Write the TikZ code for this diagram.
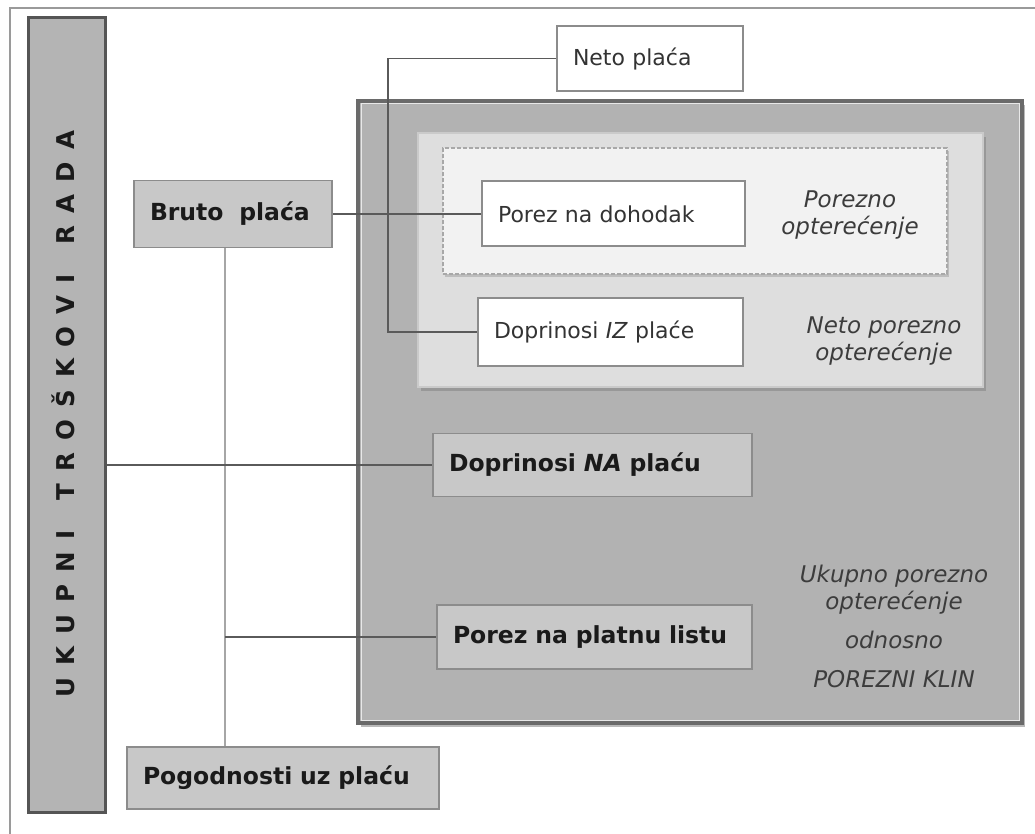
\documentclass[tikz,border=0pt]{standalone}
\usepackage{fontspec}
\setmainfont{DejaVu Sans}[ItalicFont={DejaVu Sans Oblique},BoldFont={DejaVu Sans Bold},BoldItalicFont={DejaVu Sans Bold Oblique}]
\usetikzlibrary{shadows}
\pgfdeclarelayer{containers}
\pgfdeclarelayer{links}
\pgfsetlayers{containers,links,main}
\definecolor{framegray}{HTML}{9A9A9A}
\definecolor{barfill}{HTML}{B4B4B4}
\definecolor{bardraw}{HTML}{555555}
\definecolor{boxfill}{HTML}{C8C8C8}
\definecolor{boxdraw}{HTML}{8C8C8C}
\definecolor{bigfill}{HTML}{B2B2B2}
\definecolor{bigdraw}{HTML}{6A6A6A}
\definecolor{lightfill}{HTML}{DEDEDE}
\definecolor{lightdraw}{HTML}{CACACA}
\definecolor{dashfill}{HTML}{F2F2F2}
\definecolor{dashdraw}{HTML}{A8A8A8}
\definecolor{conncol}{HTML}{5A5A5A}
\definecolor{trunkcol}{HTML}{A6A6A6}
\definecolor{txtdark}{HTML}{1A1A1A}
\definecolor{txtreg}{HTML}{333333}
\definecolor{txtit}{HTML}{3C3C3C}
\tikzset{
  boldfont/.style={font=\fontsize{23.5}{28}\selectfont\bfseries},
  grbox/.style={draw=boxdraw, line width=1.5pt, fill=boxfill, boldfont, text=txtdark, inner xsep=16pt, inner ysep=0pt, align=left},
  whbox/.style={draw=boxdraw, line width=2pt, fill=white, font=\fontsize{22}{26}\selectfont, text=txtreg, inner xsep=16pt, inner ysep=0pt, align=left},
  itlabel/.style={font=\fontsize{23}{27}\selectfont\itshape, text=txtit, align=center, inner sep=0pt},
  conn/.style={draw=conncol, line width=1.6pt},
  trunkline/.style={draw=trunkcol, line width=2.2pt},
  bigbox/.style={draw=bigdraw, line width=4pt, fill=bigfill, inner sep=0pt, drop shadow={shadow xshift=3pt, shadow yshift=-4pt, opacity=0.55}},
  lightbox/.style={draw=lightdraw, line width=2.5pt, fill=lightfill, inner sep=0pt, drop shadow={shadow xshift=3pt, shadow yshift=-4pt, opacity=0.5}},
  dashbox/.style={draw=dashdraw, line width=1.6pt, dash pattern=on 4pt off 2pt, fill=dashfill, inner sep=0pt, drop shadow={shadow xshift=2pt, shadow yshift=-3pt, opacity=0.35}},
  barbox/.style={draw=bardraw, line width=3pt, fill=barfill, inner sep=0pt},
}
\begin{document}
\begin{tikzpicture}[x=1pt,y=-1pt]
\useasboundingbox (0,0) rectangle (1035,834);
\begin{pgfonlayer}{containers}
\fill[white] (0,0) rectangle (1035,834);
\draw[framegray, line width=1.5pt] (10,834) -- (10,8) -- (1035,8);
\node[bigbox, minimum width=664pt, minimum height=622pt] (total) at (690,412) {};
\draw[white!70!bigfill, line width=1pt] ([shift={(5pt,5pt)}]total.south west) rectangle ([shift={(-5pt,-5pt)}]total.north east);
\node[lightbox, minimum width=565pt, minimum height=254pt] (netobox) at (700.5,260) {};
\node[dashbox, minimum width=504pt, minimum height=126pt] (porezbox) at (695,211) {};
\end{pgfonlayer}
% left bar
\node[barbox, minimum width=77pt, minimum height=794pt] (bar) at (66.5,415) {};
\node[rotate=90, font=\fontsize{24.5}{28}\selectfont\bfseries\addfontfeature{LetterSpace=50}, text=txtdark, inner sep=0pt] (bartext) at (63,414) {UKUPNI\hspace{30pt}TROŠKOVI\hspace{30pt}RADA};
% coordinates for connector bends
\coordinate (nv) at (388,0);
\coordinate (tr) at (225,0);
% nodes
\node[grbox, minimum width=198pt, minimum height=67pt, text width=166pt] (bruto) at (233,214) {Bruto\ \ plaća};
\node[whbox, minimum width=186pt, minimum height=65pt, text width=154pt] (neto) at (650,58.5) {Neto plaća};
\node[whbox, minimum width=263pt, minimum height=65pt, text width=231pt] (porez) at (613.5,214) {Porez na dohodak};
\node[whbox, minimum width=265pt, minimum height=68pt, text width=233pt] (dopIZ) at (610.5,332) {Doprinosi \textit{IZ} plaće};
\node[grbox, minimum width=319pt, minimum height=63pt, text width=287pt] (dopNA) at (592.5,465) {Doprinosi \textit{NA} plaću};
\node[grbox, minimum width=315pt, minimum height=64pt, text width=283pt] (platna) at (594.5,637) {Porez na platnu listu};
\node[grbox, minimum width=312pt, minimum height=62pt, text width=280pt] (pogod) at (283,778) {Pogodnosti uz plaću};
% italic labels
\node[itlabel] (porLab) at (850,215.5) {Porezno\\opterećenje};
\node[itlabel] (netoLab) at (884,341.5) {Neto porezno\\opterećenje};
\node[itlabel] (ukLab) at (894,626) {Ukupno porezno\\opterećenje\\[12pt]odnosno\\[12pt]POREZNI KLIN};
% connectors
\begin{pgfonlayer}{links}
\draw[trunkline] (bruto.south -| tr) -- (pogod.north -| tr);
\draw[conn] (neto.west) -- (neto.west -| nv) |- (dopIZ.west);
\draw[conn] (bruto.east) -- (bruto.east -| porez.west);
\draw[conn] (bar.east |- dopNA.west) -- (dopNA.west);
\draw[conn] (tr |- platna.west) -- (platna.west);
\end{pgfonlayer}
\end{tikzpicture}
\end{document}
